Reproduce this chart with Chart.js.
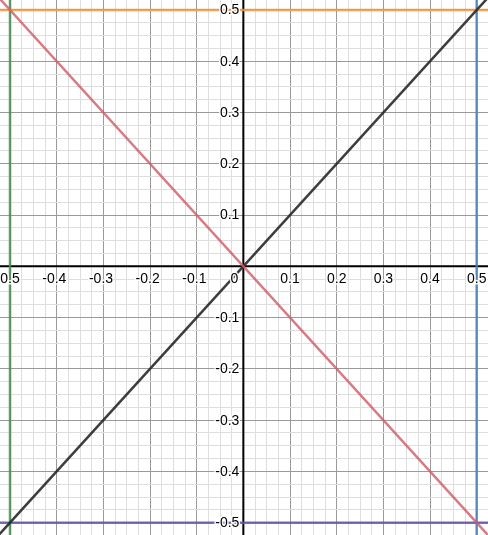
<!DOCTYPE html>
<html>
<head>
<meta charset="utf-8">
<script src="https://cdn.jsdelivr.net/npm/chart.js@4/dist/chart.umd.min.js"></script>
<style>
html,body{margin:0;padding:0;background:#fff;}
#wrap{width:488px;height:535px;}
</style>
</head>
<body>
<div id="wrap"><canvas id="c" width="488" height="535"></canvas></div>
<script>
// ---- data ----
const spanX = [-0.6, 0.6];                 // x extent of horizontal / diagonal lines
const spanY = [-0.6, 0.6];                 // y extent of vertical lines
const diagUpY = [-0.6, 0.6];               // y = x
const diagDownY = [0.6, -0.6];             // y = -x
const topY = [0.5, 0.5];                   // y = 0.5
const bottomY = [-0.5, -0.5];              // y = -0.5
const leftX = [-0.5, -0.5];                // x = -0.5
const rightX = [0.5, 0.5];                 // x = 0.5
const xTickLabels = [-0.5, -0.4, -0.3, -0.2, -0.1, 0.1, 0.2, 0.3, 0.4, 0.5];
const yTickLabels = [-0.5, -0.4, -0.3, -0.2, -0.1, 0.1, 0.2, 0.3, 0.4, 0.5];

function pts(xs, ys){ return xs.map((x,i)=>({x:x, y:ys[i]})); }

const isMajor = v => Math.abs(v*10 - Math.round(v*10)) < 1e-6;
const gridColor = ctx => (ctx.tick && isMajor(ctx.tick.value)) ? '#9a9a9a' : '#dedede';

const axisPlugin = {
  id: 'axes',
  beforeDatasetsDraw(chart){
    const {ctx, chartArea:a, scales:{x, y}} = chart;
    const x0 = x.getPixelForValue(0), y0 = y.getPixelForValue(0);
    ctx.save();
    ctx.strokeStyle = '#000';
    ctx.lineWidth = 2;
    ctx.beginPath();
    ctx.moveTo(a.left, y0); ctx.lineTo(a.right, y0);
    ctx.moveTo(x0, a.top); ctx.lineTo(x0, a.bottom);
    ctx.stroke();
    ctx.restore();
  },
  afterDatasetsDraw(chart){
    const {ctx, scales:{x, y}} = chart;
    const x0 = x.getPixelForValue(0), y0 = y.getPixelForValue(0);
    ctx.save();
    ctx.font = '14px "Liberation Sans", Arial, sans-serif';
    ctx.lineJoin = 'round';
    ctx.strokeStyle = 'rgba(255,255,255,0.9)';
    ctx.lineWidth = 3;
    ctx.fillStyle = '#000';
    // x labels: digits centered on tick, minus hanging to the left
    ctx.textBaseline = 'alphabetic';
    ctx.textAlign = 'left';
    xTickLabels.forEach(v => {
      const num = String(Math.abs(v));
      const txt = (v < 0 ? '-' : '') + num;
      const wNum = ctx.measureText(num).width;
      const wAll = ctx.measureText(txt).width;
      const px = x.getPixelForValue(v);
      const left = px - wNum/2 - (wAll - wNum);
      ctx.strokeText(txt, left, y0 + 16.5);
      ctx.fillText(txt, left, y0 + 16.5);
    });
    // origin label
    ctx.textAlign = 'right';
    ctx.strokeText('0', x0 - 5, y0 + 16.5);
    ctx.fillText('0', x0 - 5, y0 + 16.5);
    // y labels: right aligned left of axis
    ctx.textBaseline = 'middle';
    yTickLabels.forEach(v => {
      const txt = String(v);
      const py = y.getPixelForValue(v);
      ctx.strokeText(txt, x0 - 4, py + 0.5);
      ctx.fillText(txt, x0 - 4, py + 0.5);
    });
    ctx.restore();
  }
};

const lineDs = (label, data, color, order) => ({
  label, data, borderColor: color, backgroundColor: color,
  showLine: true, pointRadius: 0, pointHoverRadius: 0, borderWidth: 2.5,
  fill: false, tension: 0, order
});

new Chart(document.getElementById('c'), {
  type: 'scatter',
  data: {
    datasets: [
      lineDs('y=-x', pts(spanX, diagDownY), 'rgba(207,93,103,0.82)', 1),
      lineDs('y=x', pts(spanX, diagUpY), 'rgba(40,40,40,0.9)', 2),
      lineDs('y=0.5', pts(spanX, topY), 'rgba(245,150,60,0.85)', 3),
      lineDs('y=-0.5', pts(spanX, bottomY), 'rgba(100,85,175,0.85)', 4),
      lineDs('x=-0.5', pts(leftX, spanY), 'rgba(70,145,85,0.85)', 5),
      lineDs('x=0.5', pts(rightX, spanY), 'rgba(70,130,190,0.85)', 6)
    ]
  },
  options: {
    responsive: false,
    animation: false,
    devicePixelRatio: 1,
    layout: { padding: 0 },
    plugins: { legend: { display: false }, tooltip: { enabled: false } },
    events: [],
    scales: {
      x: {
        type: 'linear', min: -0.52143, max: 0.5242,
        border: { display: false },
        grid: { color: gridColor, lineWidth: 1, drawTicks: false },
        ticks: { display: false, stepSize: 0.025, includeBounds: false, autoSkip: false }
      },
      y: {
        type: 'linear', min: -0.524, max: 0.5195,
        border: { display: false },
        grid: { color: gridColor, lineWidth: 1, drawTicks: false },
        ticks: { display: false, stepSize: 0.025, includeBounds: false, autoSkip: false }
      }
    }
  },
  plugins: [axisPlugin]
});
</script>
</body>
</html>
